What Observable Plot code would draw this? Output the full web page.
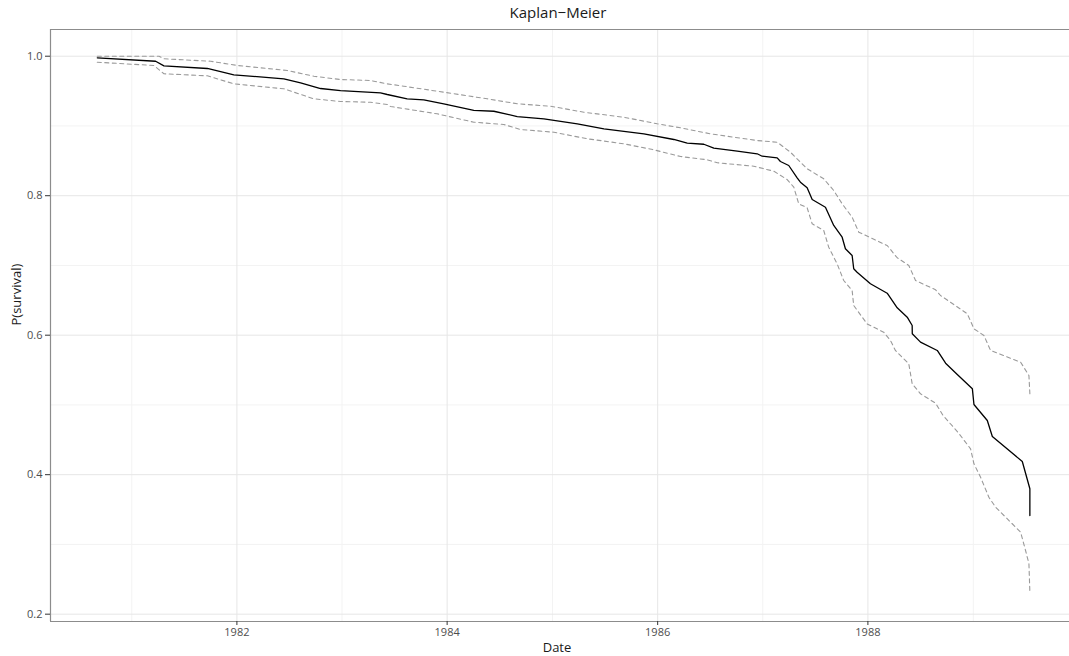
<!DOCTYPE html>
<html>
<head>
<meta charset="utf-8">
<script src="https://cdn.jsdelivr.net/npm/d3@7"></script>
<script src="https://cdn.jsdelivr.net/npm/@observablehq/plot@0.6"></script>
<style>
  html, body { margin: 0; padding: 0; background: #fff; }
  #wrap { position: relative; width: 1069px; height: 656px; overflow: hidden; font-family: "Open Sans", sans-serif; }
  #title { position: absolute; top: 2px; left: 558px; transform: translateX(-50%); font-size: 15px; color: #1a1a1a; white-space: nowrap; line-height: 20px; }
  #chart { position: absolute; top: 24px; left: 0; }
</style>
</head>
<body>
<div id="wrap">
  <div id="title">Kaplan−Meier</div>
  <div id="chart"></div>
</div>
<script>
// ---- data (decimal years, survival probability) ----
const titleText = "Kaplan−Meier";
const xLabel = "Date";
const yLabel = "P(survival)";

const kmYears = [1980.673, 1981.227, 1981.306, 1981.719, 1981.971, 1982.447, 1982.606, 1982.796, 1982.986, 1983.366,
  1983.430, 1983.620, 1983.778, 1983.968, 1984.253, 1984.443, 1984.665, 1984.918, 1985.236, 1985.489,
  1985.869, 1986.154, 1986.281, 1986.439, 1986.534, 1986.757, 1986.947, 1986.994, 1987.137, 1987.168,
  1987.247, 1987.327, 1987.358, 1987.422, 1987.470, 1987.596, 1987.675, 1987.755, 1987.786, 1987.850,
  1987.865, 1987.897, 1988.024, 1988.183, 1988.278, 1988.373, 1988.420, 1988.421, 1988.499, 1988.658,
  1988.737, 1988.848, 1988.991, 1989.006, 1989.133, 1989.181, 1989.466, 1989.538, 1989.538];
const kmSurv = [0.9977, 0.9928, 0.9862, 0.9824, 0.9733, 0.9676, 0.9619, 0.9537, 0.9508, 0.9475,
  0.9451, 0.9389, 0.9375, 0.9318, 0.9222, 0.9211, 0.9135, 0.9103, 0.9031, 0.8959,
  0.8887, 0.8806, 0.8753, 0.8738, 0.8681, 0.8638, 0.8601, 0.8566, 0.8543, 0.8490,
  0.8433, 0.8257, 0.8194, 0.8113, 0.7946, 0.7835, 0.7573, 0.7405, 0.7239, 0.7143,
  0.6952, 0.6903, 0.6737, 0.6602, 0.6393, 0.6258, 0.6139, 0.6020, 0.5900, 0.5781,
  0.5599, 0.5437, 0.5231, 0.5006, 0.4777, 0.4548, 0.4189, 0.3798, 0.3415];

const upperYears = [1980.673, 1981.259, 1981.306, 1981.750, 1982.004, 1982.479, 1982.732, 1982.986, 1983.271, 1983.430,
  1983.587, 1983.968, 1984.380, 1984.665, 1984.982, 1985.298, 1985.679, 1985.996, 1986.218, 1986.503,
  1986.947, 1987.137, 1987.263, 1987.422, 1987.580, 1987.675, 1987.755, 1987.850, 1987.913, 1988.183,
  1988.278, 1988.388, 1988.452, 1988.642, 1988.689, 1988.943, 1989.006, 1989.101, 1989.164, 1989.450,
  1989.529, 1989.538];
const upperSurv = [1.0000, 1.0000, 0.9963, 0.9928, 0.9867, 0.9795, 0.9713, 0.9666, 0.9652, 0.9604,
  0.9570, 0.9484, 0.9389, 0.9318, 0.9283, 0.9197, 0.9125, 0.9031, 0.8973, 0.8887,
  0.8791, 0.8767, 0.8624, 0.8386, 0.8242, 0.8075, 0.7884, 0.7692, 0.7477, 0.7286,
  0.7110, 0.7000, 0.6784, 0.6651, 0.6569, 0.6307, 0.6092, 0.5996, 0.5781, 0.5613,
  0.5422, 0.5160];

const lowerYears = [1980.673, 1981.211, 1981.306, 1981.719, 1981.971, 1982.447, 1982.732, 1982.986, 1983.271, 1983.430,
  1983.461, 1983.905, 1984.253, 1984.538, 1984.697, 1985.013, 1985.331, 1985.679, 1985.964, 1986.218,
  1986.471, 1986.567, 1986.914, 1987.105, 1987.232, 1987.295, 1987.342, 1987.422, 1987.470, 1987.580,
  1987.627, 1987.707, 1987.770, 1987.850, 1987.865, 1987.992, 1988.150, 1988.214, 1988.261, 1988.388,
  1988.420, 1988.499, 1988.642, 1988.713, 1988.856, 1988.974, 1989.006, 1989.069, 1989.148, 1989.212,
  1989.355, 1989.450, 1989.497, 1989.529, 1989.538];
const lowerSurv = [0.9914, 0.9867, 0.9748, 0.9719, 0.9604, 0.9533, 0.9389, 0.9351, 0.9340, 0.9308,
  0.9279, 0.9174, 0.9054, 0.9021, 0.8949, 0.8910, 0.8816, 0.8744, 0.8658, 0.8562,
  0.8515, 0.8472, 0.8423, 0.8351, 0.8232, 0.8122, 0.7884, 0.7827, 0.7597, 0.7501,
  0.7262, 0.7024, 0.6784, 0.6641, 0.6426, 0.6163, 0.6043, 0.5924, 0.5781, 0.5590,
  0.5303, 0.5160, 0.5025, 0.4849, 0.4605, 0.4371, 0.4156, 0.3964, 0.3677, 0.3534,
  0.3319, 0.3176, 0.2913, 0.2723, 0.2315];

const xMajorYears = [1982, 1984, 1986, 1988];
const xMinorYears = [1981, 1983, 1985, 1987, 1989];
const yMajor = [0.2, 0.4, 0.6, 0.8, 1.0];
const yMinor = [0.3, 0.5, 0.7, 0.9];
const xDomainYears = [1980.229, 1989.915];
const yDomain = [0.1895, 1.0383];

// ---- helpers ----
function yd(y) {
  const yr = Math.floor(y);
  const s = Date.UTC(yr, 0, 1), e = Date.UTC(yr + 1, 0, 1);
  return new Date(s + (y - yr) * (e - s));
}
const toRows = (xs, ys) => xs.map((x, i) => ({date: yd(x), p: ys[i]}));
const km = toRows(kmYears, kmSurv);
const upper = toRows(upperYears, upperSurv);
const lower = toRows(lowerYears, lowerSurv);
const xDomain = xDomainYears.map(yd);
const xMajor = xMajorYears.map(yd);
const xMinor = xMinorYears.map(yd);

const plot = Plot.plot({
  width: 1069,
  height: 632,
  marginLeft: 50,
  marginRight: 0,
  marginTop: 5,
  marginBottom: 35,
  style: {fontFamily: "Open Sans, sans-serif", fontSize: "11px", color: "#4d4d4d", background: "#fff"},
  x: {type: "utc", domain: xDomain},
  y: {domain: yDomain},
  marks: [
    Plot.ruleX(xMinor, {stroke: "#f3f3f3", strokeWidth: 1}),
    Plot.ruleY(yMinor, {stroke: "#f3f3f3", strokeWidth: 1}),
    Plot.ruleX(xMajor, {stroke: "#e6e6e6", strokeWidth: 1}),
    Plot.ruleY(yMajor, {stroke: "#e6e6e6", strokeWidth: 1}),
    Plot.line(upper, {x: "date", y: "p", stroke: "#9a9a9a", strokeWidth: 1.1, strokeDasharray: "4,3.5"}),
    Plot.line(lower, {x: "date", y: "p", stroke: "#9a9a9a", strokeWidth: 1.1, strokeDasharray: "4,3.5"}),
    Plot.line(km, {x: "date", y: "p", stroke: "#000", strokeWidth: 1.3}),
    Plot.ruleY([yDomain[1]], {stroke: "#8c8c8c", strokeWidth: 1.2}),
    Plot.ruleY([yDomain[0]], {stroke: "#8c8c8c", strokeWidth: 1.2}),
    Plot.ruleX([xDomain[0]], {stroke: "#8c8c8c", strokeWidth: 1.2}),
    Plot.axisX({ticks: xMajor, tickFormat: d3.utcFormat("%Y"), tickSize: 4, tickPadding: 3, stroke: "#333", label: null, fontSize: 11}),
    Plot.axisY({ticks: yMajor, tickFormat: d3.format(".1f"), tickSize: 5, tickPadding: 3, stroke: "#333", label: null, fontSize: 11}),
    Plot.text([xLabel], {frameAnchor: "bottom", dy: 26, dx: -3, lineAnchor: "middle", fontSize: 13, fill: "#1a1a1a"}),
    Plot.text([yLabel], {frameAnchor: "left", dx: -34, rotate: -90, lineAnchor: "middle", fontSize: 13, fill: "#1a1a1a"})
  ]
});
document.getElementById("chart").appendChild(plot);
</script>
</body>
</html>
